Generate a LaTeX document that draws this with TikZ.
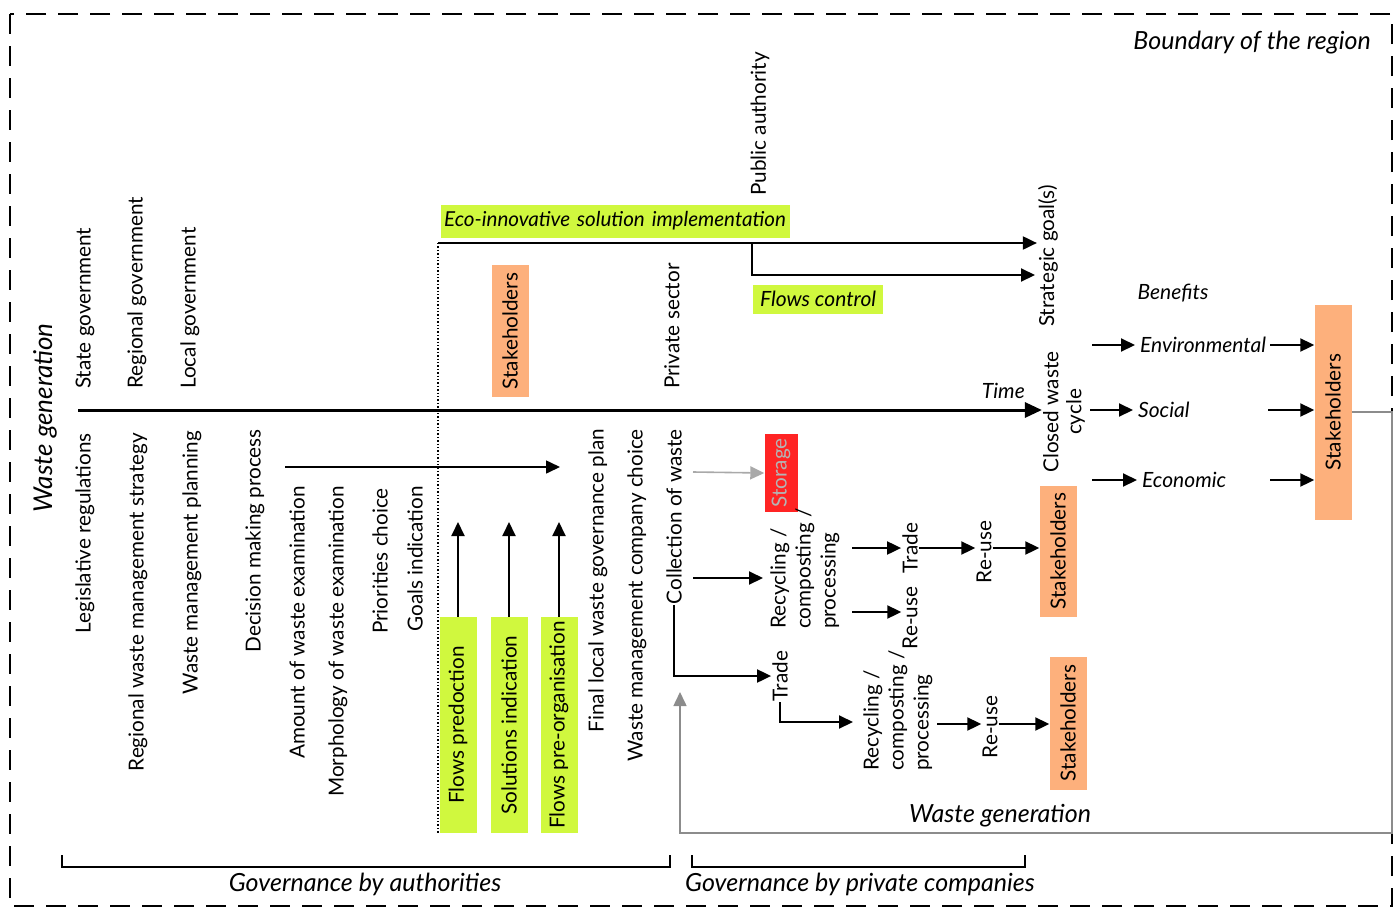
\documentclass[tikz,border=0pt]{standalone}
\usepackage{fontspec}
\setmainfont{Lato}
\usepackage{xcolor}
\usepackage{tikz}
\usetikzlibrary{arrows.meta}
\definecolor{lime}{HTML}{D0F83E}
\definecolor{peach}{HTML}{FDB07C}
\definecolor{alarm}{HTML}{FF2424}
\definecolor{loopgrey}{HTML}{8C8C8C}
\definecolor{storetext}{HTML}{B4B4B4}
\tikzset{
  frame/.style={draw=black, line width=2pt, dash pattern=on 20pt off 12pt},
  arr/.style={draw=black, line width=2pt, -{Triangle[length=14pt,width=13pt]}},
  arrbig/.style={draw=black, line width=3pt, -{Triangle[length=17pt,width=15pt]}},
  back/.style={draw=loopgrey, line width=1.6pt},
  brace/.style={draw=black, line width=1.6pt},
  lab/.style={text=black, font=\fontsize{20.7}{24}\selectfont, inner sep=1pt},
  labv/.style={lab, rotate=90},
  labi/.style={text=black, font=\fontsize{21}{24}\selectfont\itshape, inner sep=1pt},
  labbig/.style={text=black, font=\fontsize{25}{28}\selectfont\itshape, inner sep=1pt},
  solh/.style={fill=lime, text=black, font=\fontsize{21}{24}\selectfont\itshape, inner xsep=3pt, minimum height=33pt},
  solv/.style={lab, fill=lime, rotate=90, minimum width=216pt, minimum height=37pt},
  stake/.style={lab, fill=peach, rotate=90, minimum height=37pt},
  store/.style={lab, fill=alarm, text=storetext, rotate=90, minimum width=78pt, minimum height=33pt},
  multi/.style={lab, rotate=90, align=left, font=\fontsize{20.7}{25}\selectfont},
}
\begin{document}
\begin{tikzpicture}[x=1pt,y=-1pt]
  \useasboundingbox (0,0) rectangle (1400,908);
  \draw[frame] (10,14) rectangle (1392,906);
  \node[labbig, anchor=east] (bound) at (1372,43) {Boundary of the region};
  \node[labbig, rotate=90, font=\fontsize{26}{29}\selectfont\itshape] (wgenleft) at (45,418) {Waste generation};

  \foreach \n/\x/\t in {stategov/85/State government, reggov/137/Regional government,
                        locgov/190/Local government, privsec/672/Private sector}{
    \node[labv, anchor=west] (\n) at (\x,390) {\t};
  }
  \foreach \n/\x/\y/\t in {legis/85/432/Legislative regulations,
                           regstrat/138/432/Regional waste management strategy,
                           wmplan/192/430/Waste management planning,
                           decision/255/428/Decision making process,
                           amount/297/485/Amount of waste examination,
                           morph/338/485/Morphology of waste examination,
                           prio/380/487/Priorities choice,
                           goals/415/485/Goals indication,
                           finalplan/598/428/Final local waste governance plan,
                           company/637/428/Waste management company choice,
                           collect/674/428/Collection of waste}{
    \node[labv, anchor=east] (\n) at (\x,\y) {\t};
  }
  \node[labv, anchor=west] (pubauth) at (760,197) {Public authority};
  \node[labv, anchor=west] (strat) at (1048,328) {Strategic goal(s)};
  \node[labv, align=center, font=\fontsize{20.7}{23}\selectfont] (closed) at (1064,412) {Closed waste\\cycle};

  \node[solh, anchor=west, text width=343pt, align=left, font=\fontsize{20.6}{24}\selectfont\itshape] (eco) at (441,221) {\mbox{Eco-innovative solution implementation}};
  \node[solh, anchor=west, inner xsep=7pt, minimum height=29pt] (fctrl) at (753,299) {Flows control};
  \node[stake, minimum width=132pt] (st1) at (510,331) {Stakeholders};
  \node[stake, minimum width=131pt] (st2) at (1058,551) {Stakeholders};
  \node[stake, minimum width=133pt] (st3) at (1068,723) {Stakeholders};
  \node[stake, minimum width=215pt] (st4) at (1333,412) {Stakeholders};
  \node[store] (storage) at (781,473) {Storage};

  \node[labi, anchor=south east] (time) at (1026,400) {Time};
  \coordinate (tstart) at (78,410);
  \draw[arrbig] (tstart) -- (tstart -| closed.north);

  \coordinate (ecostart) at (438,243);
  \coordinate (fork) at (752,243);
  \coordinate (ctrlend) at (1035,275);
  \coordinate (dotend) at (438,833);
  \draw[line width=1.4pt, dotted] (ecostart) -- (dotend);
  \draw[arr] (ecostart) -- (ecostart -| strat.north);
  \draw[arr] (fork) |- (ctrlend);

  \coordinate (dmstart) at (285,467);
  \coordinate (dmend) at (560,467);
  \draw[arr, line width=1.6pt] (dmstart) -- (dmend);

  \foreach \n/\x/\t in {fpred/458/Flows predoction, solind/509/Solutions indication,
                        fpreorg/559/Flows pre-organisation}{
    \node[solv] (\n) at (\x,725) {\t};
    \coordinate (\n-up) at (\x,522);
    \draw[arr] (\n.east) -- (\n-up);
  }

  \node[multi, anchor=west] (rcp1) at (805,630) {Recycling /\\composting /\\processing};
  \node[multi, anchor=west] (rcp2) at (898,772) {Recycling /\\composting /\\processing};
  \node[labv] (trade1) at (910,548) {Trade};
  \node[labv] (reuse1) at (910,618) {Re-use};
  \node[labv] (reuse2) at (984,552) {Re-use};
  \node[labv] (trade2) at (780,676) {Trade};
  \node[labv] (reuse3) at (990,727) {Re-use};

  \coordinate (storestart) at (693,472);
  \draw[draw=loopgrey!75, line width=1.6pt, -{Triangle[length=14pt,width=13pt]}] (storestart) -- (storage.north);
  \coordinate (rcpstart) at (693,578);
  \coordinate (rcpend) at (763,578);
  \draw[arr] (rcpstart) -- (rcpend);
  \draw[arr] (collect.west) |- (trade2.north);
  \coordinate (rcp2end) at (853,722);
  \draw[arr] (trade2.west) |- (rcp2end);

  \coordinate (tr1start) at (852,548);
  \draw[arr] (tr1start) -- (tr1start -| trade1.north);
  \coordinate (ru1start) at (852,612);
  \draw[arr] (ru1start) -- (ru1start -| reuse1.north);
  \draw[arr] (trade1.south) -- (trade1.south -| reuse2.north);
  \draw[arr] (reuse2.south |- trade1) -- (trade1 -| st2.north);
  \coordinate (ru3start) at (937,724);
  \draw[arr] (ru3start) -- (ru3start -| reuse3.north);
  \draw[arr] (reuse3.south |- ru3start) -- (ru3start -| st3.north);

  \node[labi] (benefits) at (1173,293) {Benefits};
  \node[labi, anchor=west, inner xsep=5pt] (env) at (1135,345) {Environmental};
  \node[labi, anchor=west, inner xsep=5pt] (soc) at (1133,410) {Social};
  \node[labi, anchor=west, inner xsep=5pt] (eco2) at (1137,480) {Economic};
  \foreach \n/\a/\b/\y in {env/1092/1270/345, soc/1090/1268/410, eco2/1092/1270/480}{
    \coordinate (\n-in) at (\a,\y);
    \coordinate (\n-out) at (\b,\y);
    \draw[arr] (\n-in) -- (\n.west);
    \draw[arr] (\n-out) -- (\n-out -| st4.north);
  }

  \coordinate (loopr) at (1392,833);
  \coordinate (loopl) at (680,833);
  \coordinate (looptop) at (680,692);
  \draw[back, -{Triangle[length=14pt,width=13pt]}] (st4.south) -| (loopr) -- (loopl) -- (looptop);
  \node[labbig] (wgenbot) at (1000,816) {Waste generation};

  \draw[brace] (62,855) -- (62,867) -- (670,867) -- (670,855);
  \draw[brace] (692,855) -- (692,867) -- (1025,867) -- (1025,855);
  \node[labbig] (govauth) at (365,884) {Governance by authorities};
  \node[labbig] (govpriv) at (860,884) {Governance by private companies};
\end{tikzpicture}
\end{document}
